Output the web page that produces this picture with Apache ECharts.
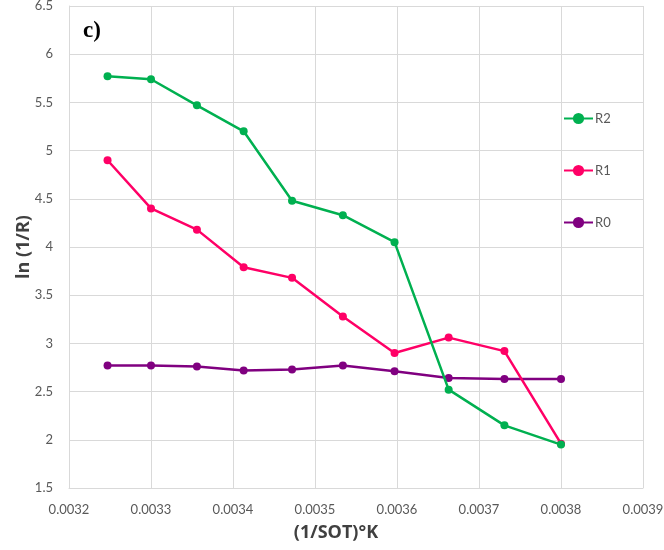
<!DOCTYPE html>
<html>
<head>
<meta charset="utf-8">
<script src="https://cdn.jsdelivr.net/npm/echarts@6/dist/echarts.min.js"></script>
<style>
html,body{margin:0;padding:0;background:#fff;}
#main{width:664px;height:550px;}
</style>
</head>
<body>
<div id="main"></div>
<script>
// x values (1/T)
var xVals = [0.003247, 0.0033, 0.003356, 0.003413, 0.003472, 0.003534, 0.003597, 0.003663, 0.003731, 0.0038];
var r2 = [5.77, 5.74, 5.47, 5.20, 4.48, 4.33, 4.05, 2.52, 2.15, 1.95];
var r1 = [4.90, 4.40, 4.18, 3.79, 3.68, 3.28, 2.90, 3.06, 2.92, 1.96];
var r0 = [2.77, 2.77, 2.76, 2.72, 2.73, 2.77, 2.71, 2.64, 2.63, 2.63];
var seriesNames = ['R2', 'R1', 'R0'];
var seriesColors = ['#00b050', '#ff0066', '#800080'];

function pairs(ys){
	var out = [];
	for (var i = 0; i < xVals.length; i++) out.push([xVals[i], ys[i]]);
	return out;
}

function e_chart(){
	var myChart = echarts.init(document.getElementById('main'));
	var lab = {color: '#595959', fontSize: 13, fontFamily: 'Lato'};
	var allData = [r2, r1, r0];
	var series = [];
	for (var k = 0; k < 3; k++){
		series.push({
			name: seriesNames[k],
			type: 'line',
			data: pairs(allData[k]),
			symbol: 'circle',
			symbolSize: 8,
			lineStyle: {width: 2.5, color: seriesColors[k]},
			itemStyle: {color: seriesColors[k]},
			z: 3 - k
		});
	}
	var option = {
		animation: false,
		title: {
			text: 'c)',
			left: 78, top: 15,
			textStyle: {fontFamily: 'Liberation Serif', fontWeight: 'bold', fontSize: 23, color: '#000'}
		},
		legend: {
			data: seriesNames,
			orient: 'vertical',
			left: 563, top: 112,
			padding: 0,
			itemWidth: 29, itemHeight: 14,
			itemGap: 39,
			textStyle: {color: '#595959', fontSize: 13, fontFamily: 'Lato', padding: [0, 0, 0, -3]}
		},
		grid: {left: 69, right: 21, top: 6, bottom: 62, containLabel: false, outerBoundsMode: 'none'},
		xAxis: {
			type: 'value',
			min: 0.0032, max: 0.0039, interval: 0.0001,
			name: '(1/SOT)°K',
			nameLocation: 'middle',
			nameGap: 36,
			nameTextStyle: {fontWeight: 'bold', fontSize: 18, color: '#404040', fontFamily: 'Open Sans', padding: [0, 40, 0, 0]},
			axisLine: {lineStyle: {color: '#d9d9d9'}},
			axisTick: {show: false},
			axisLabel: Object.assign({margin: 15, formatter: function(v){ return v.toFixed(4); }}, lab),
			splitLine: {show: true, lineStyle: {color: '#d9d9d9', width: 1}}
		},
		yAxis: {
			type: 'value',
			min: 1.5, max: 6.5, interval: 0.5,
			name: 'ln (1/R)',
			nameLocation: 'middle',
			nameGap: 36,
			nameMoveOverlap: false,
			nameTextStyle: {fontWeight: 'bold', fontSize: 18, color: '#404040', fontFamily: 'Open Sans'},
			axisLine: {show: true, lineStyle: {color: '#d9d9d9'}},
			axisTick: {show: false},
			axisLabel: Object.assign({margin: 16}, lab),
			splitLine: {show: true, lineStyle: {color: '#d9d9d9', width: 1}}
		},
		series: series
	};
	myChart.setOption(option);
}
e_chart();
</script>
</body>
</html>
